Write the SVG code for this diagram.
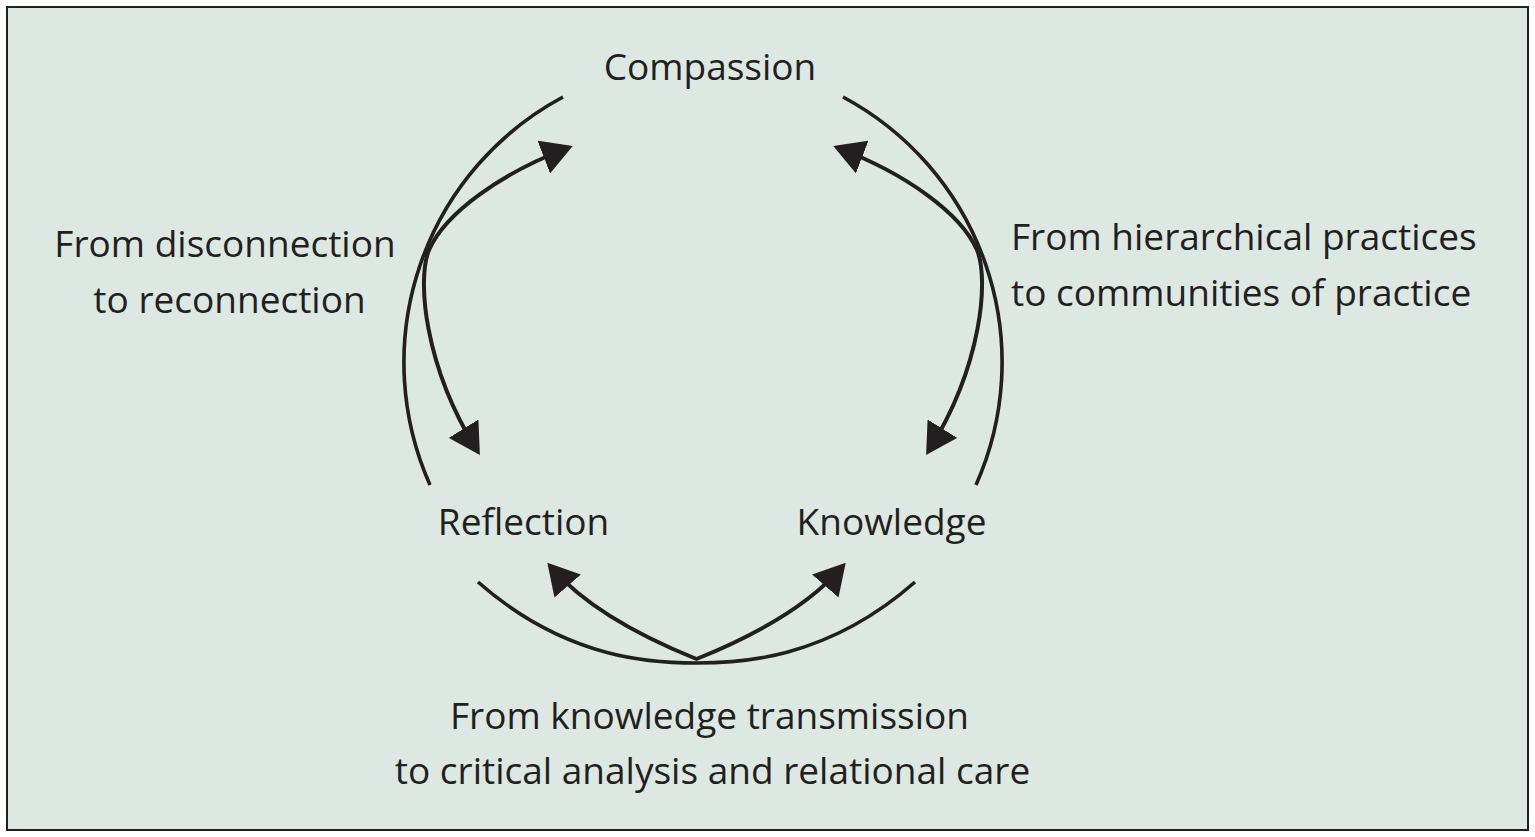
<svg xmlns="http://www.w3.org/2000/svg" width="1535" height="837" viewBox="0 0 1535 837">
<style>
.lbl{font-family:"Open Sans","DejaVu Sans",sans-serif;font-size:37px;fill:#231f20}
.arc{fill:none;stroke:#231f20;stroke-width:3.6}
.arw{fill:none;stroke:#231f20;stroke-width:4;stroke-linejoin:round;marker-start:url(#ah);marker-end:url(#ah)}
</style>
<defs>
<marker id="ah" viewBox="0 0 31 35" markerWidth="31" markerHeight="35" refX="24" refY="17.5" orient="auto-start-reverse" markerUnits="userSpaceOnUse">
<path d="M0,0 L31,17.5 L0,35 Z" fill="#231f20"/>
</marker>
</defs>
<rect x="0" y="0" width="1535" height="837" fill="#ffffff"/>
<rect x="7" y="7" width="1521" height="823" fill="#dde8e2" stroke="#231f20" stroke-width="2"/>
<g id="connectors">
<path class="arc" d="M430,485 A301,301 0 0 1 563,97"/>
<path class="arc" d="M843,97 A301,301 0 0 1 976,485"/>
<path class="arc" d="M478,582 C568,661.2 656.5,663 696.5,663 C736.5,663 825,661.2 915,582"/>
<path class="arw" d="M566.2,148.5 C500.8,173.6 445,213 429,250 C417,279 424,365 476.2,449.1"/>
<path class="arw" d="M839.8,148.5 C905.2,173.6 961,213 977,250 C989,279 982,365 929.8,449.1"/>
<path class="arw" d="M551.9,568 C591.3,613.2 659.8,644.2 696.5,659 C733.2,644.2 801.7,613.2 841.1,568"/>
</g>
<g id="node-compassion"><text class="lbl" x="710" y="80" text-anchor="middle">Compassion</text></g>
<g id="node-reflection"><text class="lbl" x="523.5" y="535" text-anchor="middle">Reflection</text></g>
<g id="node-knowledge"><text class="lbl" x="891.5" y="535" text-anchor="middle">Knowledge</text></g>
<g id="label-left">
<text class="lbl" x="225" y="257" text-anchor="middle">From disconnection</text>
<text class="lbl" x="229.5" y="313" text-anchor="middle">to reconnection</text>
</g>
<g id="label-right">
<text class="lbl" x="1011" y="250">From hierarchical practices</text>
<text class="lbl" x="1011" y="306">to communities of practice</text>
</g>
<g id="label-bottom">
<text class="lbl" x="709.5" y="729" text-anchor="middle">From knowledge transmission</text>
<text class="lbl" x="712.5" y="784" text-anchor="middle">to critical analysis and relational care</text>
</g>
</svg>
